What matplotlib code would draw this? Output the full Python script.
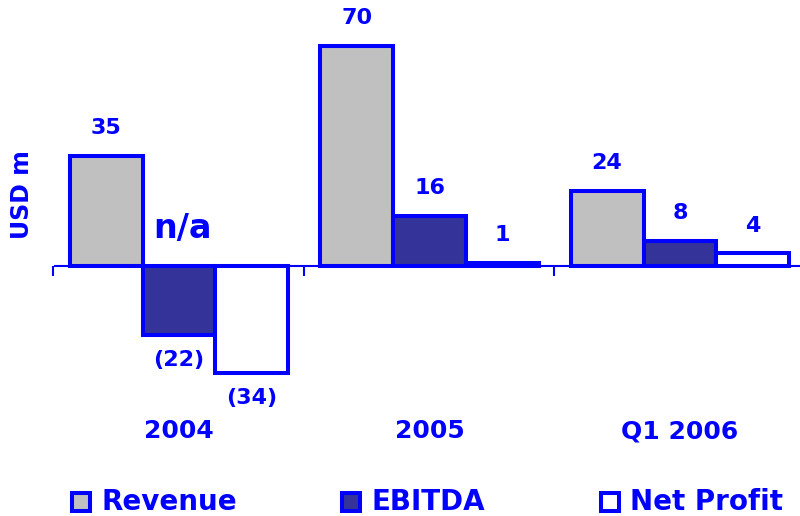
import matplotlib
matplotlib.use("Agg")
import matplotlib.pyplot as plt
import numpy as np
from matplotlib.patches import Rectangle

# data
periods = ["2004", "2005", "Q1 2006"]
series = ["Revenue", "EBITDA", "Net Profit"]
revenue = [35, 70, 24]
ebitda = [-22, 16, 8]
net_profit = [-34, 1, 4]
value_labels = [["35", "70", "24"], ["(22)", "16", "8"], ["(34)", "1", "4"]]

BLUE = "#0000FF"
fills = ["#C0C0C0", "#333399", "#FFFFFF"]
FONT = "DejaVu Sans"

fig = plt.figure(figsize=(8, 5.16), dpi=100)
ax = fig.add_axes([0, 0, 1, 1])
ax.set_xlim(-0.7146, 2.479)
ax.set_ylim(-79.5, 84.6)
ax.axis("off")

x = np.arange(len(periods))
width = 0.291
for k, vals in enumerate([revenue, ebitda, net_profit]):
    pos = x + (k - 1) * width
    ax.bar(pos, vals, width=width, color=fills[k], edgecolor=BLUE,
           linewidth=2.9, zorder=3)
    for xi, v, lab in zip(pos, vals, value_labels[k]):
        off = 20 if v >= 0 else -18
        ax.annotate(lab, (xi, v), xytext=(0, off), textcoords="offset points",
                    ha="center", va="center", color=BLUE, fontsize=16,
                    fontweight="bold", family=FONT)

# zero line with category separators
ax.plot([-0.5, 2.479], [0, 0], color=BLUE, lw=1.5, zorder=2, solid_capstyle="butt")
ax.vlines([-0.505, 0.497, 1.495], -3.2, 0, color=BLUE, lw=1.5, zorder=2)

for xi, p in zip(x, periods):
    ax.text(xi, -52.5, p, ha="center", va="center", color=BLUE, fontsize=18,
            fontweight="bold", family=FONT)

ax.text(0.015, 12, "n/a", ha="center", va="center", color=BLUE, fontsize=24,
        fontweight="bold", family=FONT)

fig.text(22 / 800, 1 - 195 / 516, "USD m", rotation=90, ha="center", va="center",
         color=BLUE, fontsize=17, fontweight="bold", family=FONT)

# legend
legend_x = [72, 342, 601]
for lx, name, fc in zip(legend_x, series, fills):
    fig.add_artist(Rectangle((lx / 800, 1 - 511 / 516), 18 / 800, 18 / 516,
                             transform=fig.transFigure, facecolor=fc,
                             edgecolor=BLUE, linewidth=2.9))
    fig.text((lx + 29) / 800, 1 - 502 / 516, name, ha="left", va="center",
             color=BLUE, fontsize=20, fontweight="bold", family=FONT)

fig.savefig("out.png", dpi=100)
